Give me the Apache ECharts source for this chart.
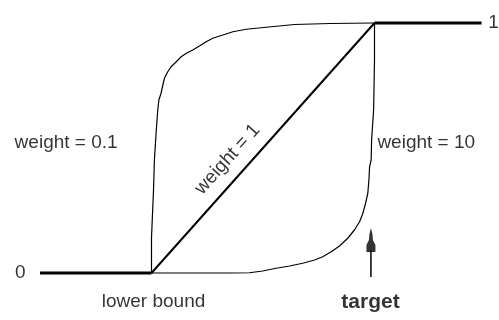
<!DOCTYPE html>
<html>
<head>
<meta charset="utf-8">
<script src="https://cdn.jsdelivr.net/npm/echarts@6/dist/echarts.min.js"></script>
<style>
  html, body { margin: 0; padding: 0; background: #fff; }
  #chart { width: 499px; height: 320px; }
</style>
</head>
<body>
<div id="chart"></div>
<script>
// x: 0 = lower bound, 1 = target; y: 0..1 normalised response
const floorLine = [[-0.5, 0], [0, 0]];
const ceilingLine = [[1, 1], [1.48, 1]];
const weightOne = [[0, 0], [1, 1]];
const weightTenth = [
  [0, 0], [0, 0.14], [0.009, 0.332], [0.013, 0.452], [0.021, 0.565],
  [0.028, 0.652], [0.033, 0.692], [0.043, 0.719], [0.051, 0.752],
  [0.058, 0.779], [0.073, 0.805], [0.088, 0.825], [0.111, 0.845],
  [0.133, 0.865], [0.156, 0.879], [0.185, 0.892], [0.215, 0.908],
  [0.245, 0.925], [0.275, 0.939], [0.32, 0.952], [0.365, 0.965],
  [0.425, 0.975], [0.537, 0.985], [0.641, 0.994], [0.8, 0.998], [1, 1]
];
const weightTen = [
  [0, 0], [0.359, 0], [0.439, 0.001], [0.499, 0.008], [0.559, 0.019],
  [0.619, 0.028], [0.678, 0.039], [0.731, 0.052], [0.768, 0.065],
  [0.806, 0.085], [0.843, 0.108], [0.88, 0.139], [0.91, 0.172],
  [0.933, 0.205], [0.948, 0.239], [0.96, 0.279], [0.97, 0.319],
  [0.975, 0.372], [0.978, 0.425], [0.985, 0.452], [0.987, 0.532],
  [0.996, 0.652], [1, 0.852], [1, 1]
];
const targetX = 0.984;
const arrowShaft = [[targetX, -0.016], [targetX, 0.09]];
const arrowHead = [[targetX, 0.132]];

// annotation texts: [text, x, y, align]
const sideLabels = [
  ['weight = 0.1', -0.152, 0.52, 'right'],
  ['weight = 10', 1.013, 0.52, 'left']
];
// [text, x, y, bold]
const axisNotes = [
  ['lower bound', 0.009, -0.116, false],
  ['target', 0.982, -0.118, true]
];
const diagonalLabel = ['weight = 1', 0.341, 0.455];
// [text, x, y, align]
const levelLabels = [
  ['0', -0.565, 0, 'right'],
  ['1', 1.51, 1, 'left']
];

const FONT = '"Liberation Sans", Arial, sans-serif';
const ink = '#000';

const chart = echarts.init(document.getElementById('chart'), null, { renderer: 'canvas' });

function lineSeries(data, width) {
  return {
    type: 'line',
    data: data,
    showSymbol: false,
    symbol: 'none',
    silent: true,
    clip: false,
    lineStyle: { color: ink, width: width },
    animation: false
  };
}

const textItems = []
  .concat(sideLabels.map(d => ({
    name: d[0], value: [d[1], d[2]],
    label: { align: d[3], fontSize: 19 }
  })))
  .concat(levelLabels.map(d => ({
    name: d[0], value: [d[1], d[2]],
    label: { align: d[3], fontSize: 19 }
  })))
  .concat(axisNotes.map(d => ({
    name: d[0], value: [d[1], d[2]],
    label: { align: 'center', fontWeight: d[3] ? 'bold' : 'normal', fontSize: d[3] ? 21 : 19 }
  })))
  .concat([{
    name: diagonalLabel[0], value: [diagonalLabel[1], diagonalLabel[2]],
    label: { align: 'center', rotate: 48, fontSize: 19 }
  }]);

chart.setOption({
  backgroundColor: '#fff',
  animation: false,
  grid: { left: 40, width: 446, top: 23, height: 250 },
  xAxis: { type: 'value', min: -0.5, max: 1.5, show: false },
  yAxis: { type: 'value', min: 0, max: 1, show: false },
  series: [
    lineSeries(floorLine, 3),
    lineSeries(ceilingLine, 3),
    lineSeries(weightOne, 2),
    lineSeries(weightTenth, 1.2),
    lineSeries(weightTen, 1.2),
    lineSeries(arrowShaft, 1.5),
    {
      type: 'scatter',
      data: arrowHead,
      clip: false,
      symbol: 'path://M4.5 0 L6 6 L6.5 12 L9 17 L9 24 L0 24 L0 17 L2.5 12 L3 6 Z',
      symbolSize: [9, 24],
      itemStyle: { color: ink },
      silent: true,
      animation: false
    },
    {
      type: 'scatter',
      symbolSize: 0,
      clip: false,
      silent: true,
      animation: false,
      data: textItems,
      label: {
        show: true,
        position: 'inside',
        formatter: p => p.name,
        color: ink,
        fontFamily: FONT,
        fontSize: 18
      }
    }
  ]
});
</script>
</body>
</html>
